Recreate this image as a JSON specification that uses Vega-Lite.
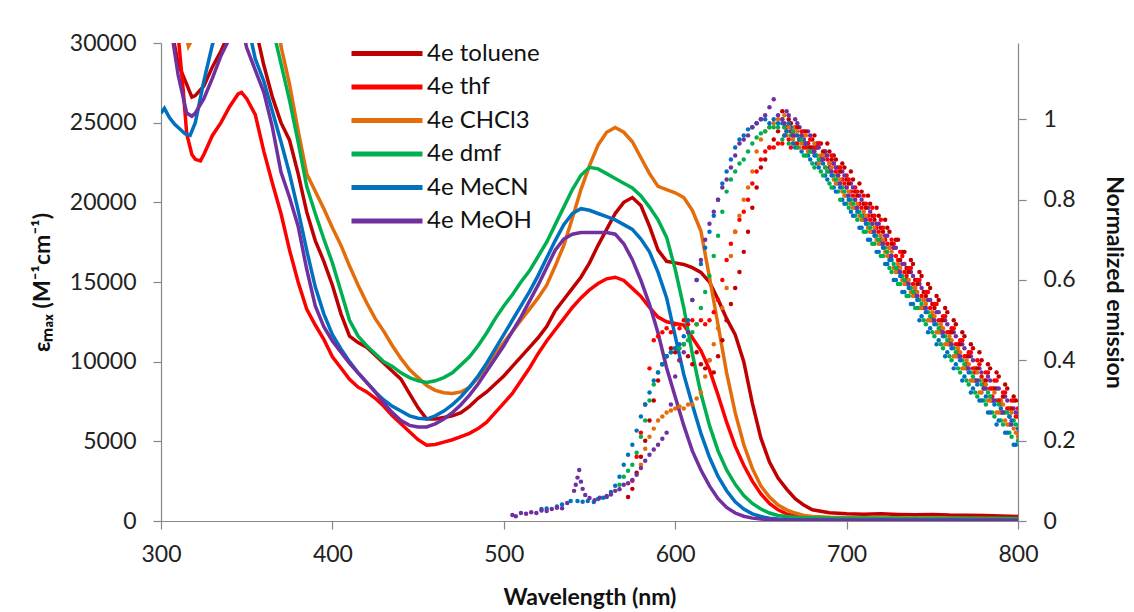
{
  "$schema": "https://vega.github.io/schema/vega-lite/v6.json",
  "width": 857,
  "height": 478,
  "autosize": {"type": "none"},
  "padding": {"left": 161, "top": 43, "right": 116, "bottom": 91},
  "background": "white",
  "config": {
    "view": {"stroke": null},
    "font": "Lato",
    "axis": {
      "grid": false,
      "labelFlush": false,
      "labelOverlap": false,
      "domainColor": "#868686",
      "domainWidth": 1.2,
      "tickColor": "#868686",
      "tickWidth": 1.2,
      "tickSize": 8,
      "labelFont": "Lato",
      "labelFontSize": 23,
      "labelColor": "#222222",
      "labelPadding": 10,
      "titleFont": "Lato",
      "titleFontSize": 23,
      "titleFontWeight": "bold",
      "titleColor": "#111111"
    }
  },
  "datasets": {
    "absorption": [
      {"w": 300, "toluene": 36000, "thf": 35000, "CHCl3": 36000, "dmf": 36000, "MeCN": 25600, "MeOH": 35000},
      {"w": 302, "MeCN": 25900},
      {"w": 305, "toluene": 31500, "thf": 33000, "CHCl3": 34000, "dmf": 36000, "MeCN": 25300, "MeOH": 31500},
      {"w": 308, "MeCN": 24900},
      {"w": 310, "toluene": 28700, "thf": 30500, "CHCl3": 32000, "dmf": 36000, "MeOH": 28000},
      {"w": 311, "MeCN": 24600},
      {"w": 313, "thf": 27000},
      {"w": 314, "MeCN": 24300},
      {"w": 315, "toluene": 27400, "thf": 24300, "CHCl3": 30300, "dmf": 36000, "MeOH": 25600},
      {"w": 316, "CHCl3": 29800},
      {"w": 317, "MeCN": 24200},
      {"w": 318, "toluene": 26600, "thf": 23000, "CHCl3": 30200, "MeOH": 25400},
      {"w": 320, "toluene": 26700, "thf": 22700, "CHCl3": 31500, "dmf": 36000, "MeCN": 25000, "MeOH": 25600},
      {"w": 323, "thf": 22600},
      {"w": 325, "toluene": 27300, "thf": 23000, "CHCl3": 34000, "dmf": 36000, "MeCN": 27600, "MeOH": 26500},
      {"w": 330, "toluene": 28500, "thf": 24200, "CHCl3": 36000, "dmf": 36000, "MeCN": 29900, "MeOH": 27800},
      {"w": 335, "toluene": 29500, "thf": 25000, "CHCl3": 36000, "dmf": 36000, "MeCN": 31500, "MeOH": 29200},
      {"w": 340, "toluene": 30700, "thf": 26000, "CHCl3": 36000, "dmf": 36000, "MeCN": 33000, "MeOH": 30300},
      {"w": 345, "toluene": 33000, "thf": 26800, "CHCl3": 36000, "dmf": 36000, "MeCN": 33000, "MeOH": 32000},
      {"w": 347, "thf": 26900},
      {"w": 350, "toluene": 33000, "thf": 26500, "CHCl3": 36000, "dmf": 36000, "MeCN": 31500, "MeOH": 29700},
      {"w": 355, "toluene": 31000, "thf": 25500, "CHCl3": 36000, "dmf": 36000, "MeCN": 29000, "MeOH": 28300},
      {"w": 360, "toluene": 28600, "thf": 23200, "CHCl3": 36000, "dmf": 34000, "MeCN": 27600, "MeOH": 26900},
      {"w": 365, "toluene": 26600, "thf": 21200, "CHCl3": 34000, "dmf": 31000, "MeCN": 25700, "MeOH": 24700},
      {"w": 370, "toluene": 25000, "thf": 19300, "CHCl3": 29800, "dmf": 28700, "MeCN": 23800, "MeOH": 21900},
      {"w": 375, "toluene": 23900, "thf": 17000, "CHCl3": 27400, "dmf": 26400, "MeCN": 21800, "MeOH": 20300},
      {"w": 380, "toluene": 21800, "thf": 15000, "CHCl3": 24500, "dmf": 23800, "MeCN": 19500, "MeOH": 18500},
      {"w": 385, "toluene": 19400, "thf": 13300, "CHCl3": 21800, "dmf": 21000, "MeCN": 17000, "MeOH": 15800},
      {"w": 390, "toluene": 17600, "thf": 12300, "CHCl3": 20700, "dmf": 19300, "MeCN": 14700, "MeOH": 13500},
      {"w": 395, "toluene": 16300, "thf": 11400, "CHCl3": 19600, "dmf": 17700, "MeCN": 13000, "MeOH": 12200},
      {"w": 400, "toluene": 14800, "thf": 10300, "CHCl3": 18400, "dmf": 16200, "MeCN": 11700, "MeOH": 11300},
      {"w": 405, "toluene": 13000, "thf": 9600, "CHCl3": 17300, "dmf": 14400, "MeCN": 10800, "MeOH": 10600},
      {"w": 410, "toluene": 11600, "thf": 8900, "CHCl3": 16000, "dmf": 12600, "MeCN": 10000, "MeOH": 9900},
      {"w": 415, "toluene": 11200, "thf": 8400, "CHCl3": 14800, "dmf": 11600, "MeCN": 9300, "MeOH": 9300},
      {"w": 420, "toluene": 10900, "thf": 8100, "CHCl3": 13700, "dmf": 11000, "MeCN": 8700, "MeOH": 8700},
      {"w": 425, "toluene": 10400, "thf": 7700, "CHCl3": 12700, "dmf": 10500, "MeCN": 8100, "MeOH": 8100},
      {"w": 430, "toluene": 9900, "thf": 7200, "CHCl3": 11900, "dmf": 10000, "MeCN": 7600, "MeOH": 7400},
      {"w": 435, "toluene": 9400, "thf": 6600, "CHCl3": 11000, "dmf": 9700, "MeCN": 7200, "MeOH": 6800},
      {"w": 440, "toluene": 8900, "thf": 6100, "CHCl3": 10200, "dmf": 9300, "MeCN": 6900, "MeOH": 6300},
      {"w": 445, "toluene": 8000, "thf": 5600, "CHCl3": 9500, "dmf": 9000, "MeCN": 6600, "MeOH": 6000},
      {"w": 450, "toluene": 7100, "thf": 5100, "CHCl3": 9000, "dmf": 8800, "MeCN": 6450, "MeOH": 5900},
      {"w": 455, "toluene": 6400, "thf": 4750, "CHCl3": 8500, "dmf": 8700, "MeCN": 6400, "MeOH": 5900},
      {"w": 460, "toluene": 6400, "thf": 4800, "CHCl3": 8200, "dmf": 8800, "MeCN": 6600, "MeOH": 6100},
      {"w": 465, "toluene": 6500, "thf": 4950, "CHCl3": 8050, "dmf": 9000, "MeCN": 6900, "MeOH": 6400},
      {"w": 470, "toluene": 6600, "thf": 5100, "CHCl3": 8000, "dmf": 9300, "MeCN": 7300, "MeOH": 6800},
      {"w": 475, "toluene": 6800, "thf": 5300, "CHCl3": 8100, "dmf": 9800, "MeCN": 7800, "MeOH": 7300},
      {"w": 480, "toluene": 7200, "thf": 5500, "CHCl3": 8400, "dmf": 10300, "MeCN": 8400, "MeOH": 7900},
      {"w": 485, "toluene": 7700, "thf": 5800, "CHCl3": 9000, "dmf": 11000, "MeCN": 9100, "MeOH": 8600},
      {"w": 490, "toluene": 8100, "thf": 6200, "CHCl3": 9700, "dmf": 11800, "MeCN": 9900, "MeOH": 9400},
      {"w": 495, "toluene": 8600, "thf": 6800, "CHCl3": 10500, "dmf": 12700, "MeCN": 10800, "MeOH": 10200},
      {"w": 500, "toluene": 9100, "thf": 7400, "CHCl3": 11200, "dmf": 13500, "MeCN": 11700, "MeOH": 11000},
      {"w": 505, "toluene": 9700, "thf": 8000, "CHCl3": 11900, "dmf": 14200, "MeCN": 12600, "MeOH": 11900},
      {"w": 510, "toluene": 10300, "thf": 8800, "CHCl3": 12600, "dmf": 15000, "MeCN": 13500, "MeOH": 12800},
      {"w": 515, "toluene": 10900, "thf": 9600, "CHCl3": 13300, "dmf": 15700, "MeCN": 14400, "MeOH": 13800},
      {"w": 520, "toluene": 11500, "thf": 10500, "CHCl3": 14000, "dmf": 16600, "MeCN": 15400, "MeOH": 14800},
      {"w": 525, "toluene": 12200, "thf": 11300, "CHCl3": 14800, "dmf": 17500, "MeCN": 16500, "MeOH": 15900},
      {"w": 530, "toluene": 13200, "thf": 12000, "CHCl3": 16000, "dmf": 18600, "MeCN": 17600, "MeOH": 17000},
      {"w": 535, "toluene": 13900, "thf": 12700, "CHCl3": 17300, "dmf": 19700, "MeCN": 18600, "MeOH": 17700},
      {"w": 540, "toluene": 14600, "thf": 13400, "CHCl3": 19000, "dmf": 20800, "MeCN": 19300, "MeOH": 18000},
      {"w": 545, "toluene": 15300, "thf": 14000, "CHCl3": 20800, "dmf": 21700, "MeCN": 19600, "MeOH": 18100},
      {"w": 550, "toluene": 16200, "thf": 14500, "CHCl3": 22300, "dmf": 22200, "MeCN": 19500, "MeOH": 18100},
      {"w": 555, "toluene": 17300, "thf": 14900, "CHCl3": 23600, "dmf": 22100, "MeCN": 19300, "MeOH": 18100},
      {"w": 560, "toluene": 18300, "thf": 15200, "CHCl3": 24400, "dmf": 21800, "MeCN": 19100, "MeOH": 18100},
      {"w": 565, "toluene": 19300, "thf": 15300, "CHCl3": 24700, "dmf": 21500, "MeCN": 18900, "MeOH": 18000},
      {"w": 570, "toluene": 20000, "thf": 15100, "CHCl3": 24400, "dmf": 21200, "MeCN": 18600, "MeOH": 17400},
      {"w": 575, "toluene": 20300, "thf": 14600, "CHCl3": 23800, "dmf": 20900, "MeCN": 18300, "MeOH": 16400},
      {"w": 580, "toluene": 19800, "thf": 14100, "CHCl3": 22800, "dmf": 20400, "MeCN": 17700, "MeOH": 15100},
      {"w": 585, "toluene": 18500, "thf": 13400, "CHCl3": 21800, "dmf": 19700, "MeCN": 16900, "MeOH": 13600},
      {"w": 590, "toluene": 17000, "thf": 12800, "CHCl3": 21000, "dmf": 18900, "MeCN": 15600, "MeOH": 11800},
      {"w": 595, "toluene": 16300, "thf": 12500, "CHCl3": 20800, "dmf": 17800, "MeCN": 14000, "MeOH": 9600},
      {"w": 600, "toluene": 16200, "thf": 12400, "CHCl3": 20600, "dmf": 15800, "MeCN": 11600, "MeOH": 7800},
      {"w": 605, "toluene": 16100, "thf": 12300, "CHCl3": 20300, "dmf": 13400, "MeCN": 9200, "MeOH": 6000},
      {"w": 610, "toluene": 15900, "thf": 11500, "CHCl3": 19500, "dmf": 10500, "MeCN": 7300, "MeOH": 4400},
      {"w": 615, "toluene": 15600, "thf": 10700, "CHCl3": 18200, "dmf": 8000, "MeCN": 5500, "MeOH": 3200},
      {"w": 620, "toluene": 15000, "thf": 9500, "CHCl3": 15300, "dmf": 6000, "MeCN": 4000, "MeOH": 2200},
      {"w": 625, "toluene": 13900, "thf": 7900, "CHCl3": 12300, "dmf": 4400, "MeCN": 2800, "MeOH": 1400},
      {"w": 630, "toluene": 12700, "thf": 6200, "CHCl3": 9300, "dmf": 3200, "MeCN": 1900, "MeOH": 850},
      {"w": 635, "toluene": 11700, "thf": 4700, "CHCl3": 6800, "dmf": 2300, "MeCN": 1200, "MeOH": 500},
      {"w": 640, "toluene": 10000, "thf": 3500, "CHCl3": 4800, "dmf": 1600, "MeCN": 750, "MeOH": 300},
      {"w": 645, "toluene": 7400, "thf": 2500, "CHCl3": 3300, "dmf": 1100, "MeCN": 450, "MeOH": 180},
      {"w": 650, "toluene": 5200, "thf": 1700, "CHCl3": 2200, "dmf": 750, "MeCN": 280, "MeOH": 120},
      {"w": 655, "toluene": 3700, "thf": 1100, "CHCl3": 1500, "dmf": 500, "MeCN": 180, "MeOH": 90},
      {"w": 660, "toluene": 2700, "thf": 700, "CHCl3": 1000, "dmf": 350, "MeCN": 120, "MeOH": 70},
      {"w": 665, "toluene": 2000, "thf": 450, "CHCl3": 700, "dmf": 280, "MeCN": 90, "MeOH": 60},
      {"w": 670, "toluene": 1400, "thf": 300, "CHCl3": 500, "dmf": 230, "MeCN": 80, "MeOH": 50},
      {"w": 675, "toluene": 1000, "thf": 220, "CHCl3": 350, "dmf": 200, "MeCN": 70, "MeOH": 50},
      {"w": 680, "toluene": 700, "thf": 180, "CHCl3": 280, "dmf": 190, "MeCN": 60, "MeOH": 40},
      {"w": 690, "toluene": 520, "thf": 150, "CHCl3": 230, "dmf": 180, "MeCN": 60, "MeOH": 40},
      {"w": 700, "toluene": 460, "thf": 140, "CHCl3": 210, "dmf": 170, "MeCN": 55, "MeOH": 40},
      {"w": 710, "toluene": 430, "thf": 160, "CHCl3": 200, "dmf": 160, "MeCN": 50, "MeOH": 35},
      {"w": 720, "toluene": 450, "thf": 140, "CHCl3": 190, "dmf": 170, "MeCN": 60, "MeOH": 40},
      {"w": 730, "toluene": 410, "thf": 130, "CHCl3": 200, "dmf": 150, "MeCN": 50, "MeOH": 35},
      {"w": 740, "toluene": 390, "thf": 150, "CHCl3": 180, "dmf": 160, "MeCN": 45, "MeOH": 40},
      {"w": 750, "toluene": 410, "thf": 130, "CHCl3": 190, "dmf": 150, "MeCN": 50, "MeOH": 35},
      {"w": 760, "toluene": 370, "thf": 120, "CHCl3": 170, "dmf": 160, "MeCN": 55, "MeOH": 40},
      {"w": 770, "toluene": 360, "thf": 130, "CHCl3": 180, "dmf": 150, "MeCN": 45, "MeOH": 35},
      {"w": 780, "toluene": 340, "thf": 120, "CHCl3": 170, "dmf": 140, "MeCN": 50, "MeOH": 40},
      {"w": 790, "toluene": 310, "thf": 110, "CHCl3": 160, "dmf": 150, "MeCN": 45, "MeOH": 35},
      {"w": 800, "toluene": 290, "thf": 100, "CHCl3": 150, "dmf": 140, "MeCN": 40, "MeOH": 30}
    ],
    "emission": [
      {"w": 505, "MeOH": 0.015},
      {"w": 507, "MeOH": 0.012},
      {"w": 510, "MeOH": 0.02},
      {"w": 513, "MeOH": 0.018},
      {"w": 516, "MeOH": 0.022},
      {"w": 519, "MeOH": 0.02},
      {"w": 522, "MeOH": 0.026, "MeCN": 0.03},
      {"w": 525, "MeOH": 0.025, "MeCN": 0.031},
      {"w": 528, "MeOH": 0.03},
      {"w": 531, "MeOH": 0.033, "MeCN": 0.036},
      {"w": 534, "MeOH": 0.032, "MeCN": 0.041},
      {"w": 537, "MeOH": 0.045},
      {"w": 539, "MeCN": 0.05},
      {"w": 541, "MeOH": 0.075},
      {"w": 542, "MeOH": 0.09},
      {"w": 543, "MeOH": 0.108, "MeCN": 0.05},
      {"w": 544, "MeOH": 0.127},
      {"w": 545, "MeOH": 0.098},
      {"w": 546, "MeOH": 0.08, "MeCN": 0.048},
      {"w": 547.5, "MeOH": 0.065},
      {"w": 549, "MeCN": 0.05},
      {"w": 550, "MeOH": 0.057},
      {"w": 552.5, "MeCN": 0.047},
      {"w": 553, "MeOH": 0.052},
      {"w": 555, "MeCN": 0.055},
      {"w": 556, "MeOH": 0.058},
      {"w": 558, "MeCN": 0.058},
      {"w": 560, "MeCN": 0.06, "MeOH": 0.062},
      {"w": 562.5, "MeCN": 0.072, "MeOH": 0.066},
      {"w": 565, "MeCN": 0.088, "MeOH": 0.075},
      {"w": 567.5, "dmf": 0.09, "MeCN": 0.11, "MeOH": 0.079},
      {"w": 570, "dmf": 0.11, "MeCN": 0.14, "MeOH": 0.09},
      {"w": 572.5, "toluene": 0.06, "dmf": 0.125, "MeCN": 0.165, "MeOH": 0.094},
      {"w": 575, "toluene": 0.08, "thf": 0.1, "dmf": 0.14, "MeCN": 0.19, "MeOH": 0.102},
      {"w": 577.5, "toluene": 0.12, "thf": 0.16, "dmf": 0.17, "MeCN": 0.225, "MeOH": 0.115},
      {"w": 580, "toluene": 0.16, "thf": 0.22, "CHCl3": 0.14, "dmf": 0.21, "MeCN": 0.26, "MeOH": 0.132},
      {"w": 582.5, "toluene": 0.2, "thf": 0.29, "CHCl3": 0.18, "dmf": 0.25, "MeCN": 0.29, "MeOH": 0.15},
      {"w": 585, "toluene": 0.25, "thf": 0.38, "CHCl3": 0.21, "dmf": 0.3, "MeCN": 0.32, "MeOH": 0.165},
      {"w": 587.5, "toluene": 0.3, "thf": 0.45, "CHCl3": 0.23, "dmf": 0.34, "MeCN": 0.35, "MeOH": 0.178},
      {"w": 590, "toluene": 0.35, "thf": 0.46, "CHCl3": 0.25, "dmf": 0.37, "MeCN": 0.37, "MeOH": 0.19},
      {"w": 592.5, "toluene": 0.39, "thf": 0.47, "CHCl3": 0.26, "dmf": 0.39, "MeCN": 0.39, "MeOH": 0.205},
      {"w": 595, "toluene": 0.41, "thf": 0.48, "CHCl3": 0.27, "dmf": 0.41, "MeCN": 0.41, "MeOH": 0.22},
      {"w": 597.5, "toluene": 0.43, "thf": 0.47, "CHCl3": 0.275, "dmf": 0.42, "MeCN": 0.42, "MeOH": 0.29},
      {"w": 600, "toluene": 0.42, "thf": 0.49, "CHCl3": 0.28, "dmf": 0.43, "MeCN": 0.43, "MeOH": 0.36},
      {"w": 602.5, "toluene": 0.4, "thf": 0.48, "CHCl3": 0.285, "dmf": 0.43, "MeCN": 0.44, "MeOH": 0.4},
      {"w": 605, "toluene": 0.44, "thf": 0.5, "CHCl3": 0.28, "dmf": 0.44, "MeCN": 0.46, "MeOH": 0.42},
      {"w": 607.5, "toluene": 0.41, "thf": 0.49, "CHCl3": 0.29, "dmf": 0.45, "MeCN": 0.5, "MeOH": 0.47},
      {"w": 610, "toluene": 0.39, "thf": 0.5, "CHCl3": 0.29, "dmf": 0.47, "MeCN": 0.55, "MeOH": 0.55},
      {"w": 612.5, "toluene": 0.42, "thf": 0.49, "CHCl3": 0.305, "dmf": 0.49, "MeCN": 0.6, "MeOH": 0.6},
      {"w": 615, "toluene": 0.39, "thf": 0.5, "CHCl3": 0.32, "dmf": 0.53, "MeCN": 0.64, "MeOH": 0.65},
      {"w": 617.5, "toluene": 0.38, "thf": 0.49, "CHCl3": 0.36, "dmf": 0.57, "MeCN": 0.68, "MeOH": 0.7},
      {"w": 620, "toluene": 0.4, "thf": 0.5, "CHCl3": 0.4, "dmf": 0.61, "MeCN": 0.72, "MeOH": 0.74},
      {"w": 622.5, "toluene": 0.37, "thf": 0.52, "CHCl3": 0.44, "dmf": 0.66, "MeCN": 0.76, "MeOH": 0.77},
      {"w": 625, "toluene": 0.41, "thf": 0.55, "CHCl3": 0.48, "dmf": 0.71, "MeCN": 0.8, "MeOH": 0.8},
      {"w": 627.5, "toluene": 0.45, "thf": 0.6, "CHCl3": 0.53, "dmf": 0.77, "MeCN": 0.84, "MeOH": 0.83},
      {"w": 630, "toluene": 0.5, "thf": 0.65, "CHCl3": 0.58, "dmf": 0.82, "MeCN": 0.87, "MeOH": 0.85},
      {"w": 632.5, "toluene": 0.54, "thf": 0.69, "CHCl3": 0.66, "dmf": 0.85, "MeCN": 0.9, "MeOH": 0.88},
      {"w": 635, "toluene": 0.58, "thf": 0.72, "CHCl3": 0.72, "dmf": 0.87, "MeCN": 0.93, "MeOH": 0.91},
      {"w": 637.5, "toluene": 0.62, "thf": 0.75, "CHCl3": 0.76, "dmf": 0.89, "MeCN": 0.95, "MeOH": 0.94},
      {"w": 640, "toluene": 0.67, "thf": 0.77, "CHCl3": 0.8, "dmf": 0.9, "MeCN": 0.96, "MeOH": 0.95},
      {"w": 642.5, "toluene": 0.72, "thf": 0.8, "CHCl3": 0.83, "dmf": 0.92, "MeCN": 0.975, "MeOH": 0.96},
      {"w": 645, "toluene": 0.78, "thf": 0.84, "CHCl3": 0.87, "dmf": 0.94, "MeCN": 0.98, "MeOH": 0.98},
      {"w": 647.5, "toluene": 0.83, "thf": 0.87, "CHCl3": 0.92, "dmf": 0.955, "MeCN": 0.99, "MeOH": 0.99},
      {"w": 650, "toluene": 0.88, "thf": 0.9, "CHCl3": 0.95, "dmf": 0.965, "MeCN": 1.0, "MeOH": 1.0},
      {"w": 652.5, "toluene": 0.9, "thf": 0.92, "CHCl3": 0.97, "dmf": 0.97, "MeCN": 1.0, "MeOH": 1.01},
      {"w": 655, "toluene": 0.93, "thf": 0.93, "CHCl3": 0.98, "dmf": 0.98, "MeCN": 0.99, "MeOH": 1.03},
      {"w": 657.5, "toluene": 0.95, "thf": 0.93, "CHCl3": 0.99, "dmf": 0.98, "MeCN": 1.0, "MeOH": 1.05},
      {"w": 660, "toluene": 0.97, "thf": 0.94, "CHCl3": 1.0, "dmf": 0.98, "MeCN": 0.99, "MeOH": 1.01},
      {"w": 662.5, "toluene": 1.02, "thf": 0.94, "CHCl3": 1.0, "dmf": 0.95, "MeCN": 0.99, "MeOH": 1.0},
      {"w": 665, "toluene": 0.97, "thf": 0.98, "CHCl3": 0.96, "dmf": 0.97, "MeCN": 0.97, "MeOH": 1.02},
      {"w": 667.5, "toluene": 0.99, "thf": 0.93, "CHCl3": 0.97, "dmf": 0.96, "MeCN": 0.98, "MeOH": 0.97},
      {"w": 670, "toluene": 0.98, "thf": 0.96, "CHCl3": 0.98, "dmf": 0.94, "MeCN": 0.93, "MeOH": 1.0},
      {"w": 672.5, "toluene": 0.95, "thf": 0.95, "CHCl3": 0.93, "dmf": 0.95, "MeCN": 0.95, "MeOH": 0.98},
      {"w": 675, "toluene": 0.97, "thf": 0.93, "CHCl3": 0.95, "dmf": 0.91, "MeCN": 0.94, "MeOH": 0.95},
      {"w": 677.5, "toluene": 0.94, "thf": 0.94, "CHCl3": 0.92, "dmf": 0.93, "MeCN": 0.91, "MeOH": 0.97},
      {"w": 680, "toluene": 0.95, "thf": 0.92, "CHCl3": 0.93, "dmf": 0.89, "MeCN": 0.92, "MeOH": 0.93},
      {"w": 682.5, "toluene": 0.93, "thf": 0.93, "CHCl3": 0.91, "dmf": 0.91, "MeCN": 0.89, "MeOH": 0.94},
      {"w": 685, "toluene": 0.94, "thf": 0.9, "CHCl3": 0.91, "dmf": 0.87, "MeCN": 0.9, "MeOH": 0.9},
      {"w": 687.5, "toluene": 0.91, "thf": 0.92, "CHCl3": 0.88, "dmf": 0.88, "MeCN": 0.86, "MeOH": 0.92},
      {"w": 690, "toluene": 0.92, "thf": 0.89, "CHCl3": 0.89, "dmf": 0.84, "MeCN": 0.87, "MeOH": 0.88},
      {"w": 692.5, "toluene": 0.91, "thf": 0.89, "CHCl3": 0.85, "dmf": 0.86, "MeCN": 0.83, "MeOH": 0.89},
      {"w": 695, "toluene": 0.88, "thf": 0.86, "CHCl3": 0.86, "dmf": 0.82, "MeCN": 0.84, "MeOH": 0.86},
      {"w": 697.5, "toluene": 0.89, "thf": 0.85, "CHCl3": 0.82, "dmf": 0.83, "MeCN": 0.8, "MeOH": 0.87},
      {"w": 700, "toluene": 0.85, "thf": 0.86, "CHCl3": 0.83, "dmf": 0.79, "MeCN": 0.81, "MeOH": 0.83},
      {"w": 702.5, "toluene": 0.87, "thf": 0.82, "CHCl3": 0.79, "dmf": 0.8, "MeCN": 0.77, "MeOH": 0.84},
      {"w": 705, "toluene": 0.82, "thf": 0.83, "CHCl3": 0.8, "dmf": 0.76, "MeCN": 0.78, "MeOH": 0.8},
      {"w": 707.5, "toluene": 0.84, "thf": 0.79, "CHCl3": 0.76, "dmf": 0.77, "MeCN": 0.73, "MeOH": 0.81},
      {"w": 710, "toluene": 0.79, "thf": 0.81, "CHCl3": 0.77, "dmf": 0.72, "MeCN": 0.75, "MeOH": 0.76},
      {"w": 712.5, "toluene": 0.81, "thf": 0.76, "CHCl3": 0.73, "dmf": 0.74, "MeCN": 0.7, "MeOH": 0.78},
      {"w": 715, "toluene": 0.76, "thf": 0.78, "CHCl3": 0.74, "dmf": 0.69, "MeCN": 0.72, "MeOH": 0.74},
      {"w": 717.5, "toluene": 0.78, "thf": 0.73, "CHCl3": 0.7, "dmf": 0.71, "MeCN": 0.67, "MeOH": 0.74},
      {"w": 720, "toluene": 0.73, "thf": 0.75, "CHCl3": 0.71, "dmf": 0.66, "MeCN": 0.69, "MeOH": 0.7},
      {"w": 722.5, "toluene": 0.75, "thf": 0.7, "CHCl3": 0.67, "dmf": 0.68, "MeCN": 0.64, "MeOH": 0.71},
      {"w": 725, "toluene": 0.72, "thf": 0.68, "CHCl3": 0.68, "dmf": 0.63, "MeCN": 0.65, "MeOH": 0.66},
      {"w": 727.5, "toluene": 0.68, "thf": 0.69, "CHCl3": 0.63, "dmf": 0.64, "MeCN": 0.6, "MeOH": 0.68},
      {"w": 730, "toluene": 0.7, "thf": 0.65, "CHCl3": 0.64, "dmf": 0.59, "MeCN": 0.62, "MeOH": 0.63},
      {"w": 732.5, "toluene": 0.67, "thf": 0.66, "CHCl3": 0.6, "dmf": 0.61, "MeCN": 0.57, "MeOH": 0.64},
      {"w": 735, "toluene": 0.63, "thf": 0.61, "CHCl3": 0.62, "dmf": 0.56, "MeCN": 0.59, "MeOH": 0.6},
      {"w": 737.5, "toluene": 0.65, "thf": 0.63, "CHCl3": 0.57, "dmf": 0.58, "MeCN": 0.54, "MeOH": 0.62},
      {"w": 740, "toluene": 0.6, "thf": 0.58, "CHCl3": 0.58, "dmf": 0.53, "MeCN": 0.56, "MeOH": 0.57},
      {"w": 742.5, "toluene": 0.62, "thf": 0.6, "CHCl3": 0.53, "dmf": 0.55, "MeCN": 0.5, "MeOH": 0.59},
      {"w": 745, "toluene": 0.57, "thf": 0.55, "CHCl3": 0.55, "dmf": 0.5, "MeCN": 0.53, "MeOH": 0.53},
      {"w": 747.5, "toluene": 0.59, "thf": 0.57, "CHCl3": 0.5, "dmf": 0.52, "MeCN": 0.47, "MeOH": 0.55},
      {"w": 750, "toluene": 0.54, "thf": 0.51, "CHCl3": 0.52, "dmf": 0.47, "MeCN": 0.5, "MeOH": 0.5},
      {"w": 752.5, "toluene": 0.56, "thf": 0.54, "CHCl3": 0.47, "dmf": 0.49, "MeCN": 0.44, "MeOH": 0.52},
      {"w": 755, "toluene": 0.5, "thf": 0.48, "CHCl3": 0.49, "dmf": 0.44, "MeCN": 0.47, "MeOH": 0.47},
      {"w": 757.5, "toluene": 0.53, "thf": 0.51, "CHCl3": 0.44, "dmf": 0.46, "MeCN": 0.41, "MeOH": 0.5},
      {"w": 760, "toluene": 0.47, "thf": 0.45, "CHCl3": 0.46, "dmf": 0.41, "MeCN": 0.44, "MeOH": 0.44},
      {"w": 762.5, "toluene": 0.5, "thf": 0.48, "CHCl3": 0.41, "dmf": 0.43, "MeCN": 0.38, "MeOH": 0.47},
      {"w": 765, "toluene": 0.44, "thf": 0.42, "CHCl3": 0.43, "dmf": 0.38, "MeCN": 0.41, "MeOH": 0.41},
      {"w": 767.5, "toluene": 0.47, "thf": 0.45, "CHCl3": 0.38, "dmf": 0.4, "MeCN": 0.35, "MeOH": 0.44},
      {"w": 770, "toluene": 0.41, "thf": 0.39, "CHCl3": 0.4, "dmf": 0.35, "MeCN": 0.38, "MeOH": 0.38},
      {"w": 772.5, "toluene": 0.44, "thf": 0.42, "CHCl3": 0.35, "dmf": 0.37, "MeCN": 0.32, "MeOH": 0.41},
      {"w": 775, "toluene": 0.38, "thf": 0.37, "CHCl3": 0.38, "dmf": 0.32, "MeCN": 0.35, "MeOH": 0.35},
      {"w": 777.5, "toluene": 0.42, "thf": 0.39, "CHCl3": 0.32, "dmf": 0.35, "MeCN": 0.3, "MeOH": 0.38},
      {"w": 780, "toluene": 0.35, "thf": 0.34, "CHCl3": 0.35, "dmf": 0.3, "MeCN": 0.33, "MeOH": 0.33},
      {"w": 782.5, "toluene": 0.39, "thf": 0.37, "CHCl3": 0.3, "dmf": 0.32, "MeCN": 0.27, "MeOH": 0.36},
      {"w": 785, "toluene": 0.33, "thf": 0.31, "CHCl3": 0.33, "dmf": 0.27, "MeCN": 0.3, "MeOH": 0.3},
      {"w": 787.5, "toluene": 0.37, "thf": 0.35, "CHCl3": 0.27, "dmf": 0.3, "MeCN": 0.24, "MeOH": 0.33},
      {"w": 790, "toluene": 0.3, "thf": 0.29, "CHCl3": 0.3, "dmf": 0.25, "MeCN": 0.28, "MeOH": 0.27},
      {"w": 792.5, "toluene": 0.34, "thf": 0.32, "CHCl3": 0.25, "dmf": 0.27, "MeCN": 0.22, "MeOH": 0.31},
      {"w": 795, "toluene": 0.28, "thf": 0.26, "CHCl3": 0.28, "dmf": 0.22, "MeCN": 0.26, "MeOH": 0.24},
      {"w": 797.5, "toluene": 0.31, "thf": 0.3, "CHCl3": 0.23, "dmf": 0.25, "MeCN": 0.19, "MeOH": 0.28},
      {"w": 800, "toluene": 0.26, "thf": 0.28, "CHCl3": 0.21, "dmf": 0.2, "MeCN": 0.23, "MeOH": 0.22},
      {"w": 663.75, "toluene": 0.98, "thf": 0.96, "CHCl3": 1.01, "dmf": 0.98, "MeCN": 0.96, "MeOH": 0.99},
      {"w": 666.25, "toluene": 1.0, "thf": 0.95, "CHCl3": 0.98, "dmf": 0.94, "MeCN": 0.99, "MeOH": 1.01},
      {"w": 668.75, "toluene": 0.96, "thf": 0.97, "CHCl3": 0.95, "dmf": 0.97, "MeCN": 0.94, "MeOH": 0.96},
      {"w": 671.25, "toluene": 0.98, "thf": 0.94, "CHCl3": 0.97, "dmf": 0.93, "MeCN": 0.96, "MeOH": 0.99},
      {"w": 673.75, "toluene": 0.96, "thf": 0.97, "CHCl3": 0.94, "dmf": 0.95, "MeCN": 0.92, "MeOH": 0.96},
      {"w": 676.25, "toluene": 0.97, "thf": 0.93, "CHCl3": 0.96, "dmf": 0.91, "MeCN": 0.94, "MeOH": 0.94},
      {"w": 678.75, "toluene": 0.93, "thf": 0.95, "CHCl3": 0.92, "dmf": 0.92, "MeCN": 0.9, "MeOH": 0.96},
      {"w": 681.25, "toluene": 0.96, "thf": 0.93, "CHCl3": 0.94, "dmf": 0.88, "MeCN": 0.91, "MeOH": 0.92},
      {"w": 683.75, "toluene": 0.94, "thf": 0.94, "CHCl3": 0.89, "dmf": 0.9, "MeCN": 0.88, "MeOH": 0.93},
      {"w": 686.25, "toluene": 0.92, "thf": 0.91, "CHCl3": 0.91, "dmf": 0.86, "MeCN": 0.89, "MeOH": 0.9},
      {"w": 688.75, "toluene": 0.94, "thf": 0.9, "CHCl3": 0.87, "dmf": 0.87, "MeCN": 0.85, "MeOH": 0.91},
      {"w": 691.25, "toluene": 0.9, "thf": 0.91, "CHCl3": 0.88, "dmf": 0.83, "MeCN": 0.86, "MeOH": 0.87},
      {"w": 693.75, "toluene": 0.9, "thf": 0.87, "CHCl3": 0.84, "dmf": 0.85, "MeCN": 0.82, "MeOH": 0.88},
      {"w": 696.25, "toluene": 0.87, "thf": 0.88, "CHCl3": 0.85, "dmf": 0.8, "MeCN": 0.83, "MeOH": 0.84},
      {"w": 698.75, "toluene": 0.88, "thf": 0.84, "CHCl3": 0.81, "dmf": 0.82, "MeCN": 0.79, "MeOH": 0.86},
      {"w": 701.25, "toluene": 0.84, "thf": 0.85, "CHCl3": 0.82, "dmf": 0.78, "MeCN": 0.8, "MeOH": 0.81},
      {"w": 703.75, "toluene": 0.85, "thf": 0.81, "CHCl3": 0.78, "dmf": 0.79, "MeCN": 0.76, "MeOH": 0.83},
      {"w": 706.25, "toluene": 0.81, "thf": 0.82, "CHCl3": 0.79, "dmf": 0.75, "MeCN": 0.77, "MeOH": 0.78},
      {"w": 708.75, "toluene": 0.82, "thf": 0.78, "CHCl3": 0.75, "dmf": 0.76, "MeCN": 0.73, "MeOH": 0.8},
      {"w": 711.25, "toluene": 0.78, "thf": 0.79, "CHCl3": 0.76, "dmf": 0.72, "MeCN": 0.74, "MeOH": 0.75},
      {"w": 713.75, "toluene": 0.79, "thf": 0.75, "CHCl3": 0.72, "dmf": 0.73, "MeCN": 0.7, "MeOH": 0.77},
      {"w": 716.25, "toluene": 0.75, "thf": 0.76, "CHCl3": 0.73, "dmf": 0.69, "MeCN": 0.71, "MeOH": 0.72},
      {"w": 718.75, "toluene": 0.76, "thf": 0.72, "CHCl3": 0.69, "dmf": 0.7, "MeCN": 0.67, "MeOH": 0.74},
      {"w": 721.25, "toluene": 0.72, "thf": 0.73, "CHCl3": 0.7, "dmf": 0.66, "MeCN": 0.68, "MeOH": 0.69},
      {"w": 723.75, "toluene": 0.73, "thf": 0.69, "CHCl3": 0.66, "dmf": 0.67, "MeCN": 0.64, "MeOH": 0.71},
      {"w": 726.25, "toluene": 0.69, "thf": 0.7, "CHCl3": 0.67, "dmf": 0.62, "MeCN": 0.65, "MeOH": 0.66},
      {"w": 728.75, "toluene": 0.7, "thf": 0.66, "CHCl3": 0.62, "dmf": 0.63, "MeCN": 0.6, "MeOH": 0.68},
      {"w": 731.25, "toluene": 0.65, "thf": 0.67, "CHCl3": 0.63, "dmf": 0.59, "MeCN": 0.61, "MeOH": 0.62},
      {"w": 733.75, "toluene": 0.67, "thf": 0.62, "CHCl3": 0.59, "dmf": 0.6, "MeCN": 0.57, "MeOH": 0.64},
      {"w": 736.25, "toluene": 0.62, "thf": 0.63, "CHCl3": 0.6, "dmf": 0.56, "MeCN": 0.58, "MeOH": 0.59},
      {"w": 738.75, "toluene": 0.64, "thf": 0.59, "CHCl3": 0.56, "dmf": 0.57, "MeCN": 0.54, "MeOH": 0.61},
      {"w": 741.25, "toluene": 0.59, "thf": 0.6, "CHCl3": 0.57, "dmf": 0.53, "MeCN": 0.55, "MeOH": 0.56},
      {"w": 743.75, "toluene": 0.61, "thf": 0.56, "CHCl3": 0.53, "dmf": 0.54, "MeCN": 0.51, "MeOH": 0.58},
      {"w": 746.25, "toluene": 0.56, "thf": 0.57, "CHCl3": 0.54, "dmf": 0.49, "MeCN": 0.52, "MeOH": 0.53},
      {"w": 748.75, "toluene": 0.58, "thf": 0.53, "CHCl3": 0.5, "dmf": 0.51, "MeCN": 0.48, "MeOH": 0.55},
      {"w": 751.25, "toluene": 0.53, "thf": 0.54, "CHCl3": 0.51, "dmf": 0.46, "MeCN": 0.49, "MeOH": 0.5},
      {"w": 753.75, "toluene": 0.55, "thf": 0.5, "CHCl3": 0.47, "dmf": 0.48, "MeCN": 0.45, "MeOH": 0.52},
      {"w": 756.25, "toluene": 0.5, "thf": 0.51, "CHCl3": 0.48, "dmf": 0.43, "MeCN": 0.46, "MeOH": 0.47},
      {"w": 758.75, "toluene": 0.52, "thf": 0.47, "CHCl3": 0.44, "dmf": 0.45, "MeCN": 0.42, "MeOH": 0.49},
      {"w": 761.25, "toluene": 0.47, "thf": 0.48, "CHCl3": 0.45, "dmf": 0.4, "MeCN": 0.43, "MeOH": 0.44},
      {"w": 763.75, "toluene": 0.49, "thf": 0.44, "CHCl3": 0.41, "dmf": 0.42, "MeCN": 0.39, "MeOH": 0.46},
      {"w": 766.25, "toluene": 0.44, "thf": 0.45, "CHCl3": 0.42, "dmf": 0.37, "MeCN": 0.4, "MeOH": 0.41},
      {"w": 768.75, "toluene": 0.46, "thf": 0.41, "CHCl3": 0.38, "dmf": 0.39, "MeCN": 0.36, "MeOH": 0.43},
      {"w": 771.25, "toluene": 0.41, "thf": 0.42, "CHCl3": 0.39, "dmf": 0.34, "MeCN": 0.37, "MeOH": 0.38},
      {"w": 773.75, "toluene": 0.43, "thf": 0.38, "CHCl3": 0.35, "dmf": 0.36, "MeCN": 0.33, "MeOH": 0.4},
      {"w": 776.25, "toluene": 0.38, "thf": 0.4, "CHCl3": 0.37, "dmf": 0.31, "MeCN": 0.34, "MeOH": 0.35},
      {"w": 778.75, "toluene": 0.4, "thf": 0.36, "CHCl3": 0.32, "dmf": 0.34, "MeCN": 0.3, "MeOH": 0.37},
      {"w": 781.25, "toluene": 0.35, "thf": 0.37, "CHCl3": 0.34, "dmf": 0.29, "MeCN": 0.31, "MeOH": 0.33},
      {"w": 783.75, "toluene": 0.38, "thf": 0.33, "CHCl3": 0.3, "dmf": 0.31, "MeCN": 0.27, "MeOH": 0.35},
      {"w": 786.25, "toluene": 0.33, "thf": 0.35, "CHCl3": 0.32, "dmf": 0.26, "MeCN": 0.29, "MeOH": 0.3},
      {"w": 788.75, "toluene": 0.36, "thf": 0.3, "CHCl3": 0.27, "dmf": 0.29, "MeCN": 0.25, "MeOH": 0.33},
      {"w": 791.25, "toluene": 0.31, "thf": 0.32, "CHCl3": 0.29, "dmf": 0.24, "MeCN": 0.27, "MeOH": 0.27},
      {"w": 793.75, "toluene": 0.33, "thf": 0.28, "CHCl3": 0.24, "dmf": 0.27, "MeCN": 0.22, "MeOH": 0.3},
      {"w": 796.25, "toluene": 0.28, "thf": 0.3, "CHCl3": 0.27, "dmf": 0.21, "MeCN": 0.25, "MeOH": 0.24},
      {"w": 798.75, "toluene": 0.3, "thf": 0.26, "CHCl3": 0.22, "dmf": 0.24, "MeCN": 0.19, "MeOH": 0.27}
    ]
  },
  "layer": [
    {
      "data": {"name": "absorption"},
      "transform": [
        {"fold": ["toluene", "thf", "CHCl3", "dmf", "MeCN", "MeOH"], "as": ["solvent", "eps"]},
        {"filter": "isValid(datum.eps)"}
      ],
      "mark": {"type": "line", "strokeWidth": 3.5, "clip": true},
      "encoding": {
        "x": {
          "field": "w",
          "type": "quantitative",
          "scale": {"domain": [300, 800], "nice": false, "zero": false},
          "axis": {
            "values": [300, 400, 500, 600, 700, 800],
            "title": "Wavelength (nm)",
            "labelPadding": 14,
            "titlePadding": 20
          }
        },
        "y": {
          "field": "eps",
          "type": "quantitative",
          "scale": {"domain": [0, 30000], "nice": false},
          "axis": {
            "values": [0, 5000, 10000, 15000, 20000, 25000, 30000],
            "format": "d",
            "labelPadding": 17,
            "title": "εₘₐₓ (M⁻¹cm⁻¹)",
            "titlePadding": 15
          }
        },
        "color": {
          "field": "solvent",
          "type": "nominal",
          "scale": {
            "domain": ["toluene", "thf", "CHCl3", "dmf", "MeCN", "MeOH"],
            "range": ["#C00000", "#FF0000", "#E46C0A", "#00B050", "#0070C0", "#7030A0"]
          },
          "legend": {
            "orient": "none",
            "legendX": 188,
            "legendY": -5,
            "title": null,
            "symbolType": "stroke",
            "symbolSize": 5041,
            "symbolStrokeWidth": 5,
            "clipHeight": 31,
            "rowPadding": 2.5,
            "labelOffset": 2,
            "labelFont": "Lato",
            "labelFontSize": 24,
            "labelColor": "#111111",
            "labelExpr": "'4e ' + datum.label"
          }
        }
      }
    },
    {
      "data": {"name": "emission"},
      "transform": [
        {"fold": ["toluene", "thf", "CHCl3", "dmf", "MeCN", "MeOH"], "as": ["solvent", "norm"]},
        {"filter": "isValid(datum.norm)"}
      ],
      "mark": {"type": "point", "shape": "circle", "filled": true, "size": 20, "opacity": 1, "clip": true},
      "encoding": {
        "x": {
          "field": "w",
          "type": "quantitative",
          "scale": {"domain": [300, 800], "nice": false, "zero": false}
        },
        "y": {
          "field": "norm",
          "type": "quantitative",
          "scale": {"domain": [0, 1.19], "nice": false},
          "axis": {
            "orient": "right",
            "values": [0, 0.2, 0.4, 0.6, 0.8, 1],
            "format": "~g",
            "title": "Normalized emission",
            "labelPadding": 17,
            "titlePadding": 26
          }
        },
        "color": {
          "field": "solvent",
          "type": "nominal",
          "scale": {
            "domain": ["toluene", "thf", "CHCl3", "dmf", "MeCN", "MeOH"],
            "range": ["#C00000", "#FF0000", "#E46C0A", "#00B050", "#0070C0", "#7030A0"]
          },
          "legend": null
        }
      }
    }
  ],
  "resolve": {"scale": {"y": "independent", "color": "independent"}, "legend": {"color": "independent"}}
}
